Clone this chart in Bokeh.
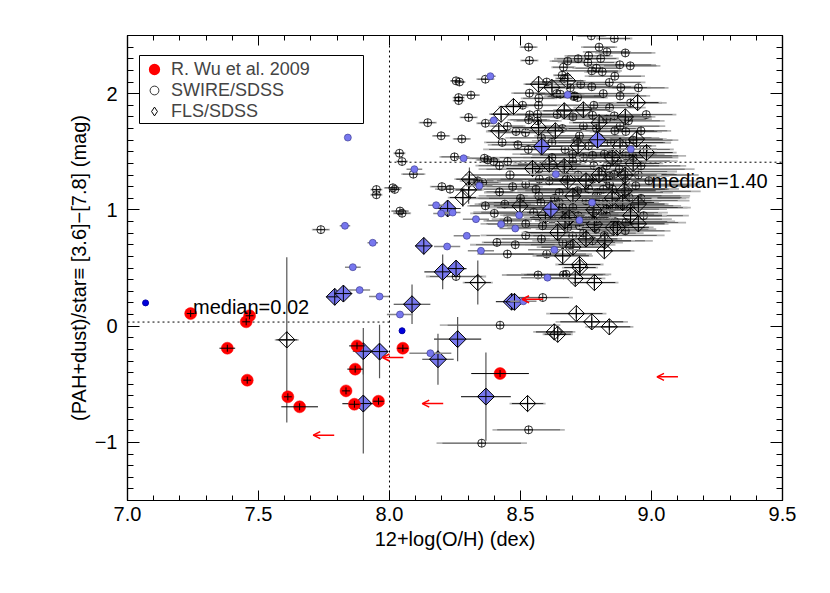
import numpy as np
from bokeh.plotting import figure
from bokeh.models import (ColumnDataSource, LinearAxis, FixedTicker, Span, Label, BoxAnnotation,
                          Legend, LegendItem, Arrow, OpenHead, Range1d)
from bokeh.embed import file_html
from bokeh.resources import INLINE

# ---------------- data ----------------
x_ticks = [7.0, 7.5, 8.0, 8.5, 9.0, 9.5]
x_tick_labels = ["7.0", "7.5", "8.0", "8.5", "9.0", "9.5"]
y_ticks = [-1, 0, 1, 2]
y_tick_labels = ["\u22121", "0", "1", "2"]

legend_labels = ["R. Wu et al. 2009", "SWIRE/SDSS", "FLS/SDSS"]
median_values = [0.02, 1.40]
median_line_y = [0.035, 1.41]

# SWIRE/SDSS: x, y, horizontal error
sw_x = [8.531, 8.534, 8.664, 8.659, 8.667, 8.254, 8.267, 8.366, 8.264, 8.264, 8.311, 8.146, 8.302, 8.366,
        8.197, 8.276, 8.038, 8.048, 8.248, 8.362, 8.375, 8.398, 8.451, 8.091, 8.013, 8.048, 8.20, 8.231,
        8.337, 8.356, 8.42, 8.366, 8.451, 8.534, 8.638, 8.652, 8.703, 8.718, 8.508, 8.569, 8.565, 8.76,
        8.757, 8.806, 8.772, 8.79, 8.812, 8.879, 8.919, 8.839, 8.883, 8.772, 8.816, 8.707, 8.77, 8.858,
        8.535, 8.531, 8.565, 8.483, 8.519, 8.725, 8.902, 8.96, 8.912, 8.829, 8.775, 8.858, 8.716, 8.845,
        8.902, 8.699, 8.775, 8.851, 8.902, 8.699, 8.829, 8.877, 8.572, 8.674, 8.775, 8.839, 8.902, 8.559,
        8.648, 8.718, 8.794, 8.851, 8.578, 8.648, 8.75, 8.829, 8.674, 8.775, 8.829, 8.584, 8.725, 8.788,
        8.858, 8.829, 8.816, 8.788, 8.829, 8.81, 8.75, 8.775, 8.68, 8.674, 8.661, 8.699, 8.902, 8.883,
        8.915, 8.94, 8.96, 8.928, 8.896, 8.422, 8.585, 8.567, 8.664, 8.254, 8.41, 8.531, 8.352, 7.95,
        7.95, 8.02, 7.738, 8.04,
        8.48, 8.52, 8.45, 8.60, 8.55, 8.50, 8.46, 8.52, 8.57, 8.62, 8.62, 8.66, 8.70, 8.58, 8.53, 8.49,
        8.74, 8.80, 8.86, 8.93, 8.97, 8.95, 8.87, 8.78, 8.72, 8.66, 8.61, 8.63, 8.70, 8.80, 8.86, 8.92,
        8.97, 8.86, 8.74, 8.69, 8.82, 8.90, 8.62, 8.58, 8.76, 8.84, 8.90, 8.96, 8.70, 8.82, 8.76, 8.88,
        8.84, 8.92, 8.78, 8.73, 8.69, 8.86, 8.80, 8.83, 8.72, 8.68, 8.90, 8.95, 8.98, 8.60, 8.57, 8.45,
        8.43, 8.42, 8.47, 8.44, 8.40, 8.52, 8.57, 8.67, 8.64, 8.79, 8.88, 8.93, 8.99, 8.72, 8.66, 8.79,
        8.85, 8.81, 8.74]
sw_y = [2.40, 2.285, 2.227, 2.158, 2.13, 2.11, 2.10, 2.124, 1.966, 1.94, 1.987, 1.75, 1.795, 1.745,
        1.637, 1.61, 1.487, 1.416, 1.456, 1.444, 1.43, 1.416, 1.416, 1.307, 1.19, 0.971, 1.20, 1.178,
        1.25, 1.235, 1.155, 1.035, 0.906, 2.004, 2.0, 1.995, 1.975, 1.966, 1.90, 1.90, 1.823, 2.325,
        2.268, 2.302, 2.196, 2.219, 2.188, 2.248, 2.239, 2.096, 2.052, 2.059, 2.0, 1.981, 2.497, 2.474,
        1.818, 1.775, 1.766, 1.674, 1.665, 1.637, 1.674, 1.68, 1.766, 1.78, 1.814, 1.809, 1.594, 1.579,
        1.579, 1.479, 1.47, 1.493, 1.465, 1.379, 1.379, 1.35, 1.264, 1.264, 1.264, 1.293, 1.25, 1.178,
        1.149, 1.164, 1.149, 1.178, 1.063, 1.063, 1.078, 1.049, 0.963, 0.977, 0.949, 0.863, 0.863, 0.834,
        1.307, 1.264, 1.178, 1.121, 1.006, 0.963, 0.92, 0.734, 0.848, 0.446, 0.719, 0.777, 0.891, 1.035,
        1.106, 1.207, 1.379, 1.465, 1.304, 0.008, 0.246, 0.44, 0.441, 0.427, 0.72, -0.892, -1.007, 1.175,
        1.13, 1.176, 0.83, 0.99,
        0.70, 0.78, 0.62, 0.62, 0.98, 1.10, 1.30, 1.22, 1.35, 1.45, 1.58, 1.70, 1.80, 1.62, 1.52, 1.56,
        1.72, 1.62, 1.68, 1.60, 1.52, 1.30, 1.42, 1.38, 1.30, 1.38, 1.25, 1.10, 1.02, 1.08, 1.12, 1.02,
        0.95, 0.90, 0.80, 0.70, 0.78, 0.82, 0.92, 0.75, 1.18, 1.22, 1.16, 1.10, 1.42, 1.48, 1.55, 1.72,
        1.88, 1.92, 1.90, 2.08, 2.05, 2.15, 2.40, 2.36, 2.30, 2.28, 2.35, 2.05, 1.82, 2.10, 1.96, 1.72,
        1.58, 1.38, 1.20, 1.05, 0.97, 0.88, 1.12, 1.52, 1.82, 1.70, 1.98, 1.45, 1.25, 0.95, 1.02, 0.92,
        1.02, 1.33, 1.45]
sw_xerr = [0.03, 0.03, 0.04, 0.03, 0.03, 0.02, 0.02, 0.03, 0.02, 0.02, 0.03, 0.03, 0.03, 0.03,
           0.03, 0.03, 0.02, 0.02, 0.05, 0.05, 0.04, 0.04, 0.05, 0.04, 0.03, 0.03, 0.04, 0.05,
           0.06, 0.06, 0.05, 0.06, 0.08, 0.06, 0.08, 0.08, 0.10, 0.10, 0.06, 0.07, 0.08, 0.08,
           0.10, 0.06, 0.10, 0.08, 0.06, 0.12, 0.10, 0.12, 0.10, 0.15, 0.12, 0.10, 0.05, 0.06,
           0.08, 0.07, 0.08, 0.10, 0.10, 0.15, 0.12, 0.10, 0.12, 0.15, 0.12, 0.10, 0.15, 0.20,
           0.15, 0.20, 0.20, 0.15, 0.20, 0.20, 0.20, 0.25, 0.20, 0.25, 0.20, 0.20, 0.25, 0.20,
           0.25, 0.20, 0.25, 0.20, 0.20, 0.25, 0.25, 0.20, 0.20, 0.25, 0.20, 0.15, 0.20, 0.20,
           0.20, 0.20, 0.25, 0.25, 0.20, 0.20, 0.20, 0.20, 0.20, 0.15, 0.20, 0.15, 0.20, 0.20,
           0.20, 0.20, 0.15, 0.15, 0.20, 0.20, 0.10, 0.12, 0.15, 0.10, 0.05, 0.12, 0.15, 0.02,
           0.02, 0.02, 0.03, 0.03,
           0.15, 0.15, 0.10, 0.15, 0.20, 0.20, 0.15, 0.20, 0.20, 0.20, 0.15, 0.15, 0.12, 0.12, 0.15, 0.10,
           0.15, 0.20, 0.15, 0.15, 0.10, 0.20, 0.20, 0.20, 0.25, 0.20, 0.20, 0.25, 0.25, 0.30, 0.25, 0.20,
           0.15, 0.20, 0.20, 0.15, 0.20, 0.15, 0.20, 0.15, 0.30, 0.30, 0.25, 0.15, 0.20, 0.20, 0.20, 0.15,
           0.12, 0.12, 0.12, 0.10, 0.10, 0.10, 0.06, 0.08, 0.08, 0.06, 0.10, 0.10, 0.10, 0.05, 0.06, 0.06,
           0.06, 0.08, 0.10, 0.10, 0.08, 0.15, 0.20, 0.20, 0.10, 0.15, 0.10, 0.15, 0.10, 0.25, 0.25, 0.25,
           0.25, 0.25, 0.20]

# FLS/SDSS open diamonds: x, y, x error, y error
fl_x = [7.608, 8.337, 8.527, 8.713, 8.772, 8.839, 8.629, 8.642, 8.725, 8.727, 8.709, 8.782, 8.569, 8.62,
        8.667, 8.74, 8.569, 8.633, 8.426, 8.417, 8.473, 8.305, 8.302, 8.28, 8.61, 8.546, 8.667, 8.498,
        8.595, 8.686, 8.947, 8.943, 8.981, 8.896, 8.89, 8.854, 8.782, 8.67, 8.642, 8.661, 8.822, 8.82,
        8.75, 8.80, 8.85, 8.90, 8.93, 8.70, 8.78, 8.92, 8.95, 8.85, 8.88, 8.72, 8.80, 8.90, 8.68, 8.75,
        8.70, 8.87, 8.95, 8.68]
fl_y = [-0.118, 0.375, -0.666, 0.108, 0.037, -0.006, -0.05, -0.07, 0.53, 0.504, 0.41, 0.375, 2.081, 2.053,
        1.852, 1.86, 1.708, 1.68, 1.823, 1.68, 1.889, 1.264, 1.172, 1.106, 1.393, 1.356, 1.373, 1.035,
        0.954, 0.934, 1.923, 1.608, 1.493, 1.164, 1.063, 0.848, 0.877, 0.906, 0.805, 0.605, 0.734, 0.648,
        1.25, 1.30, 1.45, 1.30, 1.40, 1.12, 1.00, 0.95, 1.05, 1.10, 1.55, 1.55, 1.75, 1.80, 1.25, 0.75,
        0.68, 0.85, 0.88, 2.11]
fl_xerr = [0.04, 0.05, 0.06, 0.10, 0.12, 0.08, 0.07, 0.05, 0.08, 0.06, 0.10, 0.08, 0.05, 0.05,
           0.08, 0.10, 0.10, 0.10, 0.04, 0.04, 0.05, 0.05, 0.05, 0.05, 0.12, 0.10, 0.12, 0.10,
           0.15, 0.15, 0.08, 0.10, 0.10, 0.12, 0.12, 0.12, 0.15, 0.10, 0.12, 0.10, 0.10, 0.10,
           0.15, 0.15, 0.12, 0.12, 0.10, 0.15, 0.15, 0.12, 0.10, 0.15, 0.12, 0.12, 0.10, 0.10, 0.15, 0.12,
           0.12, 0.12, 0.10, 0.06]
fl_yerr = [0.71, 0.19, 0.05, 0.04, 0.04, 0.03, 0.04, 0.04, 0.05, 0.05, 0.05, 0.05, 0.05, 0.04,
           0.05, 0.05, 0.06, 0.05, 0.05, 0.05, 0.05, 0.10, 0.12, 0.08, 0.06, 0.05, 0.06, 0.10,
           0.06, 0.06, 0.05, 0.05, 0.05, 0.05, 0.05, 0.05, 0.05, 0.05, 0.05, 0.05, 0.05, 0.05,
           0.05, 0.05, 0.05, 0.05, 0.05, 0.05, 0.05, 0.05, 0.05, 0.05, 0.05, 0.05, 0.05, 0.05, 0.05, 0.05,
           0.05, 0.05, 0.05, 0.05]

# FLS/SDSS with blue fill
bd_x = [7.791, 7.824, 7.90, 7.962, 7.90, 8.131, 8.203, 8.254, 8.086, 8.466, 8.477, 8.26, 8.185, 8.368,
        8.581, 8.794, 8.616, 8.222]
bd_y = [0.252, 0.28, -0.216, -0.219, -0.666, 0.69, 0.467, 0.495, 0.188, 0.21, 0.209, -0.112, -0.285, -0.606,
        1.545, 1.603, 1.006, 1.012]
bd_xerr = [0.03, 0.03, 0.04, 0.03, 0.08, 0.03, 0.07, 0.04, 0.07, 0.06, 0.04, 0.09, 0.06, 0.095,
           0.08, 0.10, 0.10, 0.05]
bd_yerr = [0.03, 0.03, 0.20, 0.23, 0.43, 0.03, 0.15, 0.05, 0.17, 0.03, 0.03, 0.19, 0.22, 0.38,
           0.05, 0.05, 0.05, 0.05]

# SWIRE/SDSS with blue fill
lb_x = [7.841, 7.83, 7.936, 7.86, 7.886, 7.962, 8.04, 8.22, 8.295, 8.349, 8.511, 8.603, 8.156, 8.385,
        8.398, 8.283, 8.095, 8.343, 8.178, 8.197, 8.241, 8.33, 8.426, 8.48, 8.495, 8.68, 8.635, 8.773,
        8.725, 8.629, 8.921]
lb_y = [1.622, 0.863, 0.717, 0.507, 0.31, 0.255, 0.10, 0.685, 0.777, 0.648, 0.214, 0.417, -0.233, 2.15,
        1.77, 1.444, 1.35, 1.207, 1.04, 0.969, 0.977, 0.92, 0.877, 0.84, 0.954, 1.99, 1.307, 1.063,
        0.911, 0.656, 1.522]
lb_xerr = [0.0, 0.02, 0.02, 0.03, 0.04, 0.04, 0.05, 0.05, 0.05, 0.05, 0.05, 0.10, 0.08, 0.02,
           0.02, 0.03, 0.03, 0.05, 0.03, 0.03, 0.03, 0.05, 0.05, 0.06, 0.06, 0.05, 0.10, 0.15,
           0.15, 0.10, 0.10]

# dark-blue points
db_x = [7.069, 8.048]
db_y = [0.20, -0.04]

# R. Wu et al. 2009
rw_x = [7.241, 7.466, 7.453, 7.381, 7.457, 7.612, 7.657, 7.876, 7.869, 7.834, 7.866, 7.958, 8.051, 8.422]
rw_y = [0.108, 0.089, 0.037, -0.19, -0.465, -0.608, -0.694, -0.17, -0.37, -0.557, -0.672, -0.646, -0.19, -0.408]
rw_xerr = [0.015, 0.015, 0.015, 0.03, 0.015, 0.015, 0.07, 0.03, 0.03, 0.015, 0.02, 0.02, 0.02, 0.11]
rw_yerr = [0.03, 0.03, 0.03, 0.03, 0.03, 0.03, 0.03, 0.03, 0.03, 0.03, 0.03, 0.03, 0.03, 0.03]

# R. Wu et al. 2009 upper limits
ul_x = [7.749, 8.013, 8.165, 8.546, 9.061]
ul_y = [-0.938, -0.27, -0.666, 0.231, -0.436]

# ---------------- figure ----------------
FONT = "Liberation Sans"

p = figure(width=814, height=577, x_range=Range1d(7.0, 9.5), y_range=Range1d(-1.5, 2.5),
           output_backend="svg", toolbar_location=None,
           min_border_left=127, min_border_right=32, min_border_top=35, min_border_bottom=77)
p.xgrid.visible = False
p.ygrid.visible = False
p.outline_line_color = "black"
p.outline_line_width = 1.2
p.background_fill_color = "white"
p.border_fill_color = "white"

x_minor = [round(7.0 + 0.1 * i, 2) for i in range(26)]
y_minor = [round(-1.5 + 0.1 * i, 2) for i in range(41)]
xt = FixedTicker(ticks=x_ticks, minor_ticks=x_minor)
yt = FixedTicker(ticks=y_ticks, minor_ticks=y_minor)


def style_axis(ax, major_in, minor_in, show_labels):
    ax.axis_line_color = "black"
    ax.axis_line_width = 1.2
    ax.major_tick_line_color = "black"
    ax.minor_tick_line_color = "black"
    ax.major_tick_in = major_in
    ax.major_tick_out = 0
    ax.minor_tick_in = minor_in
    ax.minor_tick_out = 0
    ax.major_label_text_font = FONT
    ax.major_label_text_color = "black"
    ax.axis_label_text_font = FONT
    ax.axis_label_text_font_style = "normal"
    ax.axis_label_text_color = "black"
    if not show_labels:
        ax.major_label_text_font_size = "0px"
        ax.major_label_text_color = None


xa = p.xaxis[0]
xa.ticker = xt
style_axis(xa, 10, 5, True)
xa.major_label_overrides = {t: l for t, l in zip(x_ticks, x_tick_labels)}
xa.major_label_text_font_size = "20px"
xa.major_label_standoff = 6
xa.axis_label = "12+log(O/H) (dex)"
xa.axis_label_text_font_size = "20px"
xa.axis_label_standoff = 4

ya = p.yaxis[0]
ya.ticker = yt
style_axis(ya, 12, 6, True)
ya.major_label_overrides = {t: l for t, l in zip(y_ticks, y_tick_labels)}
ya.major_label_text_font_size = "20px"
ya.major_label_standoff = 10
ya.major_label_orientation = "horizontal"
ya.axis_label = "(PAH+dust)/star\u2261 [3.6]\u2212[7.8] (mag)"
ya.axis_label_text_font_size = "20px"
ya.axis_label_standoff = 2

top = LinearAxis(ticker=xt)
style_axis(top, 10, 5, False)
p.add_layout(top, "above")
right = LinearAxis(ticker=yt)
style_axis(right, 12, 6, False)
p.add_layout(right, "right")

# reference lines
p.add_layout(Span(location=8.0, dimension="height", line_color="black",
                  line_dash="2 3", line_width=1))
p.segment(x0=[7.0, 8.0], y0=median_line_y, x1=[8.0, 9.5], y1=median_line_y,
          line_color="black", line_dash="2 3", line_width=1)

# SWIRE error bars + circles
sw_src = ColumnDataSource(dict(
    x=sw_x, y=sw_y,
    x0g=[a - 1.15 * e for a, e in zip(sw_x, sw_xerr)], x1g=[a + 1.15 * e for a, e in zip(sw_x, sw_xerr)],
    x0=[a - e for a, e in zip(sw_x, sw_xerr)], x1=[a + e for a, e in zip(sw_x, sw_xerr)]))
p.segment(x0="x0g", y0="y", x1="x1g", y1="y", source=sw_src, line_color="#b4b4b4", line_width=1.8)
p.segment(x0="x0", y0="y", x1="x1", y1="y", source=sw_src, line_color="black", line_width=0.7,
          line_alpha=0.65)
p.scatter(x="x", y="y", source=sw_src, marker="circle_cross", size=8, fill_color=None,
          line_color="black", line_width=0.8)

# FLS error bars + diamonds
fl_src = ColumnDataSource(dict(
    x=fl_x, y=fl_y,
    x0=[a - e for a, e in zip(fl_x, fl_xerr)], x1=[a + e for a, e in zip(fl_x, fl_xerr)],
    y0=[a - e for a, e in zip(fl_y, fl_yerr)], y1=[a + e for a, e in zip(fl_y, fl_yerr)],
    x0g=[a - 1.15 * e for a, e in zip(fl_x, fl_xerr)], x1g=[a + 1.15 * e for a, e in zip(fl_x, fl_xerr)]))
p.segment(x0="x0g", y0="y", x1="x1g", y1="y", source=fl_src, line_color="#b4b4b4", line_width=1.8)
p.segment(x0="x0", y0="y", x1="x1", y1="y", source=fl_src, line_color="black", line_width=0.8)
p.segment(x0="x", y0="y0", x1="x", y1="y1", source=fl_src, line_color="#555555", line_width=1.2)
p.scatter(x="x", y="y", source=fl_src, marker="square_x", angle=np.pi / 4, size=11.5,
          fill_color=None, line_color="black", line_width=1)

# blue-filled diamonds
bd_src = ColumnDataSource(dict(
    x=bd_x, y=bd_y,
    x0=[a - e for a, e in zip(bd_x, bd_xerr)], x1=[a + e for a, e in zip(bd_x, bd_xerr)],
    y0=[a - e for a, e in zip(bd_y, bd_yerr)], y1=[a + e for a, e in zip(bd_y, bd_yerr)]))
p.segment(x0="x0", y0="y", x1="x1", y1="y", source=bd_src, line_color="#333333", line_width=1.2)
p.segment(x0="x", y0="y0", x1="x", y1="y1", source=bd_src, line_color="#555555", line_width=1.2)
p.scatter(x="x", y="y", source=bd_src, marker="square_x", angle=np.pi / 4, size=12,
          fill_color="#7878ee", line_color="black", line_width=1)

# blue-filled small circles
lb_src = ColumnDataSource(dict(
    x=lb_x, y=lb_y,
    x0=[a - e for a, e in zip(lb_x, lb_xerr)], x1=[a + e for a, e in zip(lb_x, lb_xerr)]))
p.segment(x0="x0", y0="y", x1="x1", y1="y", source=lb_src, line_color="#888888", line_width=1.5)
p.scatter(x="x", y="y", source=lb_src, marker="circle", size=7, fill_color="#7777ee",
          line_color="#333388", line_width=0.6)

p.scatter(x=db_x, y=db_y, marker="circle", size=6, fill_color="#0000dd", line_color="#0000aa")

# R. Wu et al. 2009
rw_src = ColumnDataSource(dict(
    x=rw_x, y=rw_y,
    x0=[a - e for a, e in zip(rw_x, rw_xerr)], x1=[a + e for a, e in zip(rw_x, rw_xerr)],
    y0=[a - e for a, e in zip(rw_y, rw_yerr)], y1=[a + e for a, e in zip(rw_y, rw_yerr)]))
p.scatter(x="x", y="y", source=rw_src, marker="circle", size=12, fill_color="#ff0000",
          line_color="#ff0000", line_width=0.5)
p.segment(x0="x0", y0="y", x1="x1", y1="y", source=rw_src, line_color="black", line_width=1)
p.segment(x0="x", y0="y0", x1="x", y1="y1", source=rw_src, line_color="black", line_width=1)

# upper limits (arrows pointing left)
ul_src = ColumnDataSource(dict(
    xs=[a + 0.04 for a in ul_x], xe=[a - 0.04 for a in ul_x], y=ul_y))
p.add_layout(Arrow(end=OpenHead(size=7, line_color="red", line_width=1.5),
                   x_start="xs", y_start="y", x_end="xe", y_end="y",
                   line_color="red", line_width=1.5, source=ul_src))

# median labels
p.add_layout(Label(x=7.25, y=0.165, text="median=%.2f" % median_values[0], text_font=FONT,
                   text_font_size="20px", text_baseline="middle", text_color="black"))
p.add_layout(Label(x=9.0, y=1.245, text="median=%.2f" % median_values[1], text_font=FONT,
                   text_font_size="20px", text_baseline="middle", text_color="black"))

# legend: outer frame + one borderless legend per row
p.add_layout(BoxAnnotation(left=139, right=363, top=55, bottom=123,
                           left_units="canvas", right_units="canvas",
                           top_units="canvas", bottom_units="canvas",
                           fill_color="white", fill_alpha=1.0,
                           line_color="black", line_width=1, line_alpha=1.0))

nan = [float("nan")]
r_leg1 = p.scatter(x=nan, y=nan, marker="circle", size=12, fill_color="#ff0000",
                   line_color="#ff0000", line_width=2.5)
r_leg2 = p.scatter(x=nan, y=nan, marker="circle", size=8, fill_color=None, line_color="black",
                   line_width=0.8)
r_leg3 = p.scatter(x=nan, y=nan, marker="diamond", size=12, fill_color=None,
                   line_color="black", line_width=1)
leg_renderers = [r_leg1, r_leg2, r_leg3]
row_offsets = [420, 399, 378]
for lab, rr, off in zip(legend_labels, leg_renderers, row_offsets):
    lg = Legend(items=[LegendItem(label=lab, renderers=[rr])], location=(14, off),
                orientation="vertical")
    lg.label_text_font = FONT
    lg.label_text_font_size = "18px"
    lg.label_height = 19
    lg.glyph_height = 22
    lg.glyph_width = 26
    lg.label_standoff = 4
    lg.padding = 0
    lg.spacing = 0
    lg.margin = 0
    lg.border_line_color = None
    lg.background_fill_alpha = 0.0
    p.add_layout(lg, "center")

open("out.html", "w").write(file_html(p, INLINE))
